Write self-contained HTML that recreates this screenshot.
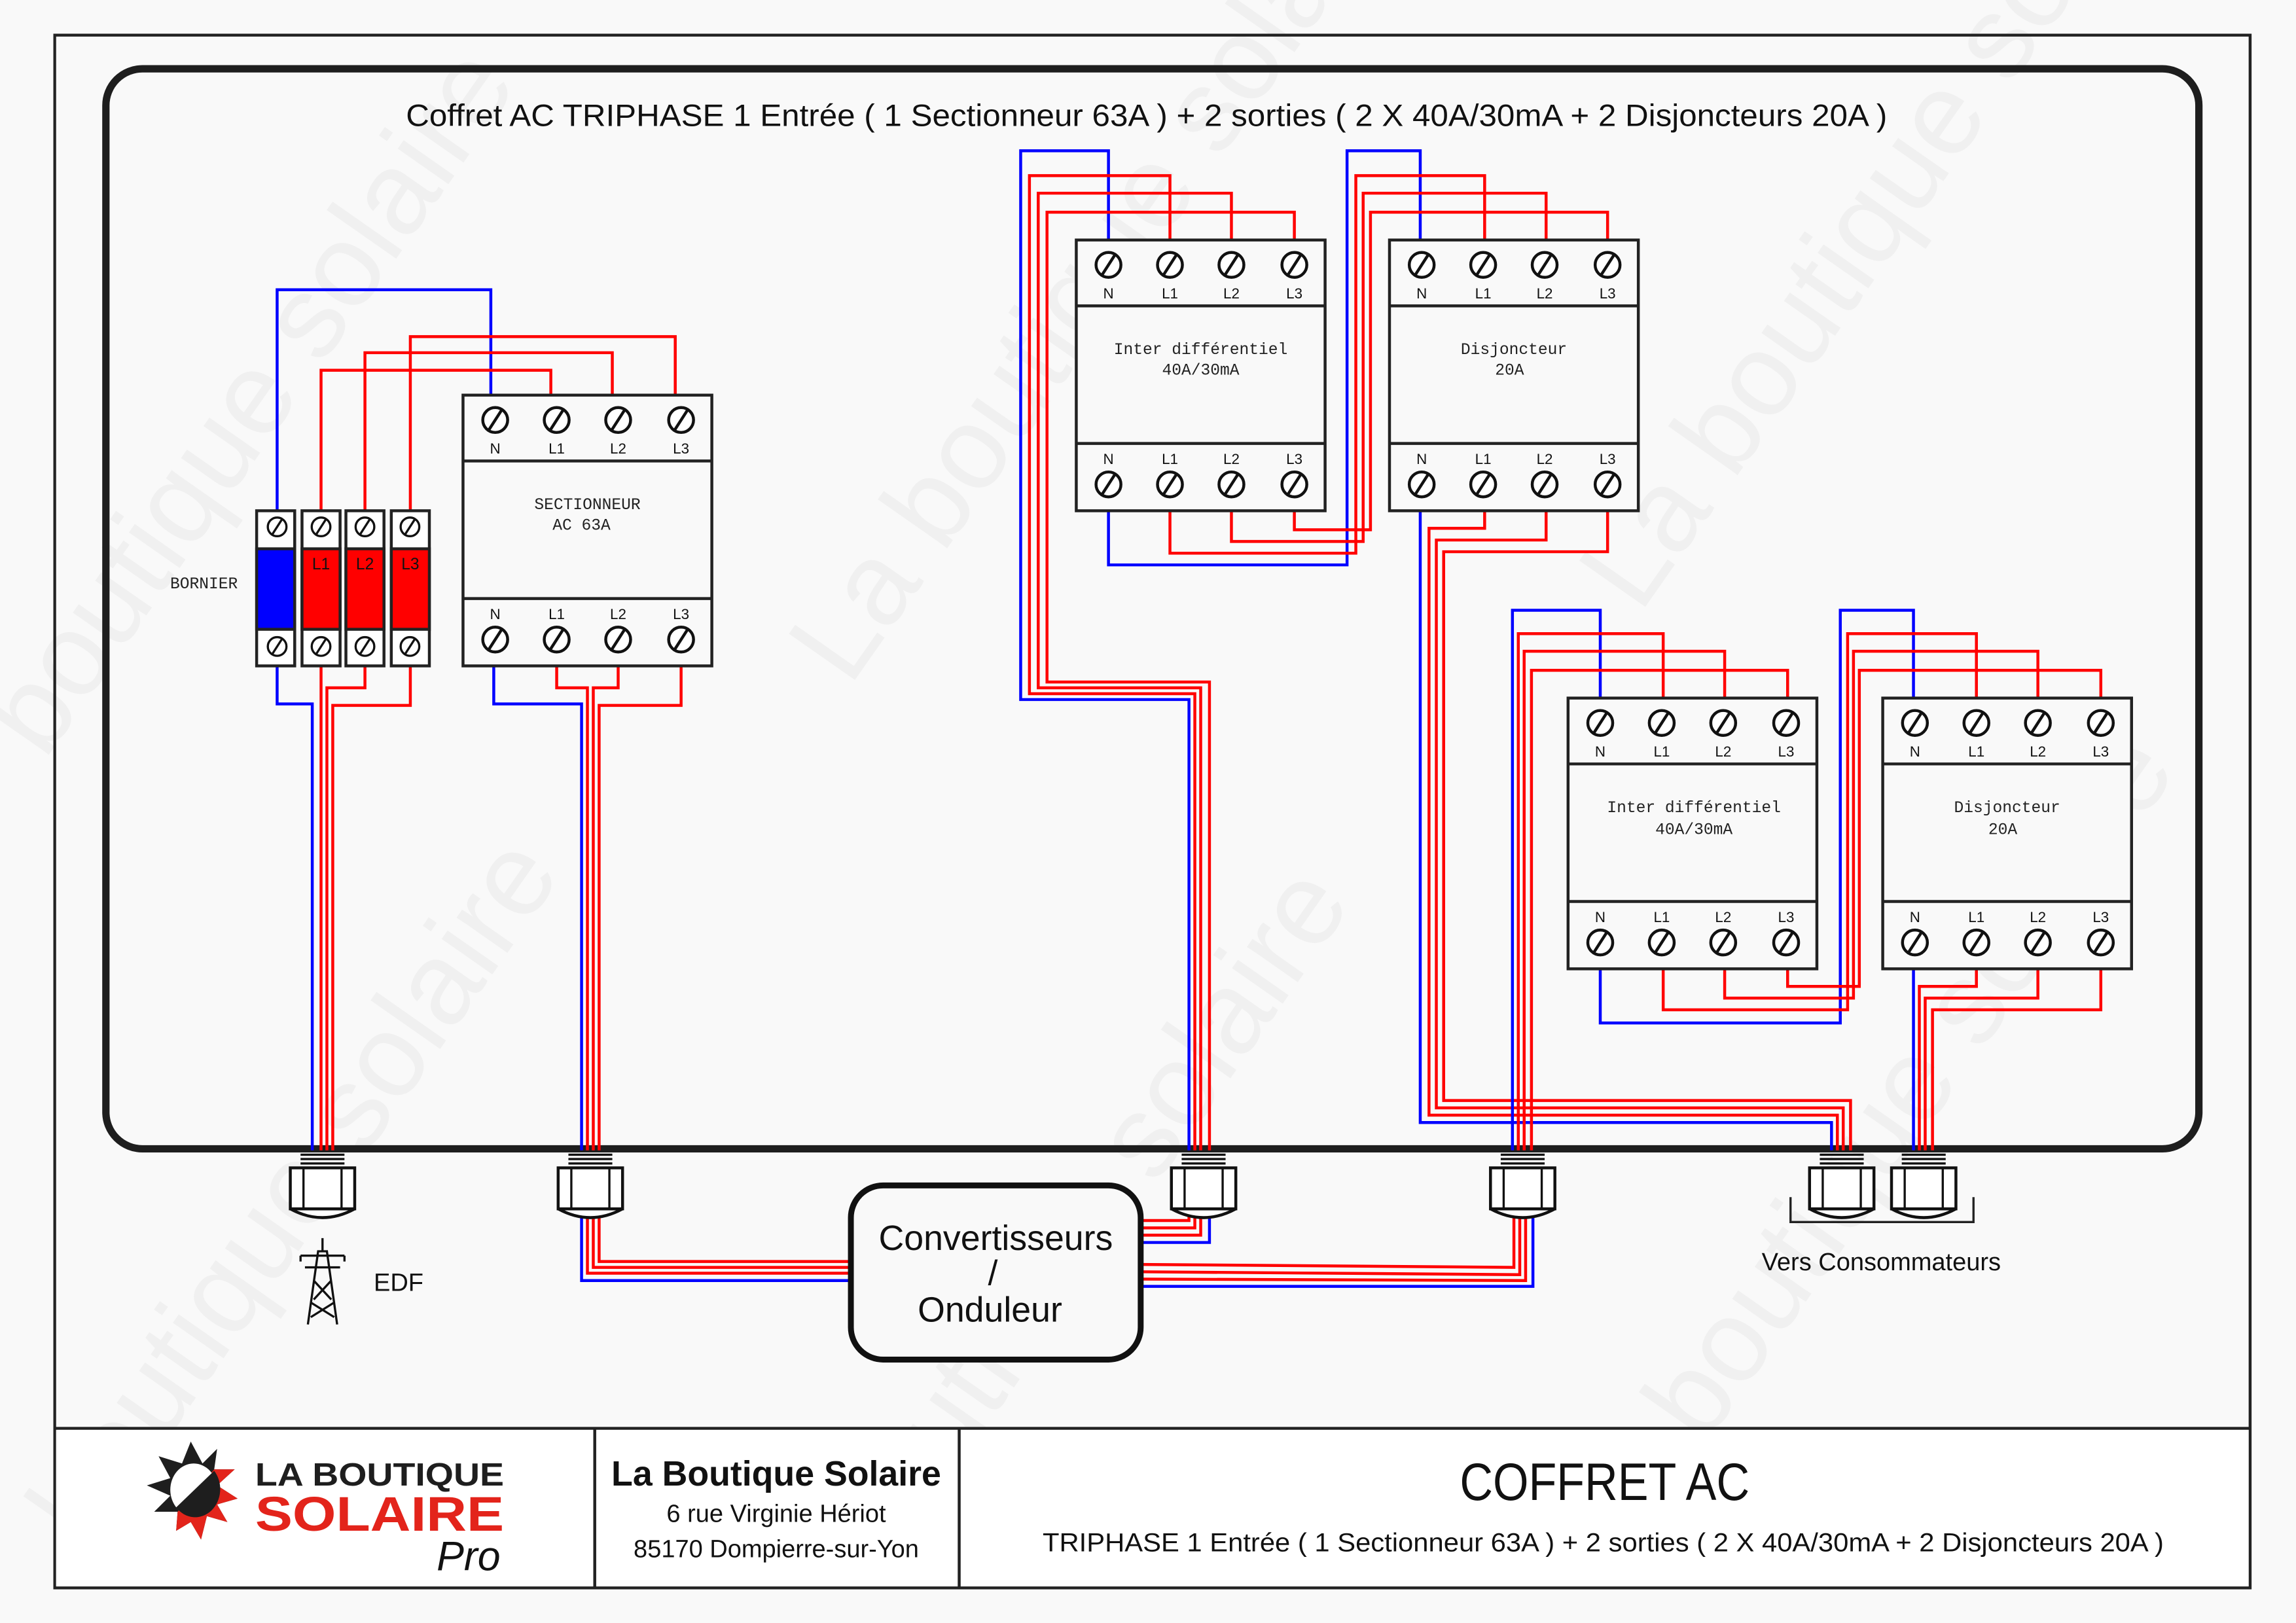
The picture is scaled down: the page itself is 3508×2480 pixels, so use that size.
<!DOCTYPE html>
<html><head><meta charset="utf-8"><style>
html,body{margin:0;padding:0;background:#f9f9f9;}
svg{display:block}
.sans{font-family:"Liberation Sans","DejaVu Sans",sans-serif;}
.mono{font-family:"Liberation Mono","DejaVu Sans Mono",monospace;}
</style></head><body>
<svg width="3508" height="2480" viewBox="0 0 1568 1109" xmlns="http://www.w3.org/2000/svg">
<defs>
<g id="screw"><circle r="8.5" fill="#fff" stroke="#111" stroke-width="2"/><line x1="-4.5" y1="7" x2="4.5" y2="-7" stroke="#111" stroke-width="2"/></g>
<g id="mod">
<rect x="0" y="0" width="170" height="185" fill="#f9f9f9" stroke="#222" stroke-width="2"/>
<line x1="0" y1="45" x2="170" y2="45" stroke="#222" stroke-width="2"/>
<line x1="0" y1="139" x2="170" y2="139" stroke="#222" stroke-width="2"/>
<use href="#screw" x="22" y="17"/><use href="#screw" x="64" y="17"/><use href="#screw" x="106" y="17"/><use href="#screw" x="149" y="17"/>
<use href="#screw" x="22" y="167"/><use href="#screw" x="64" y="167"/><use href="#screw" x="106" y="167"/><use href="#screw" x="149" y="167"/>
</g>
<g id="gland">
<g stroke="#111" stroke-width="1.5"><line x1="-15" y1="789" x2="15" y2="789"/><line x1="-15" y1="792" x2="15" y2="792"/><line x1="-15" y1="795" x2="15" y2="795"/></g>
<path d="M-22 826 Q0 838 22 826 Z" fill="#fff" stroke="#111" stroke-width="2"/>
<rect x="-22" y="798" width="44" height="28" fill="#fff" stroke="#111" stroke-width="2"/>
<line x1="-13" y1="798" x2="-13" y2="826" stroke="#111" stroke-width="1.5"/>
<line x1="13" y1="798" x2="13" y2="826" stroke="#111" stroke-width="1.5"/>
</g>
</defs>
<rect width="1568" height="1109" fill="#f9f9f9"/>
<g fill="#ececec" class="sans" font-size="80" opacity="0.7">
<text transform="translate(30,520) rotate(-55)">boutique solaire</text>
<text transform="translate(580,470) rotate(-55)">La boutique solaire</text>
<text transform="translate(1120,420) rotate(-55)">La boutique solaire</text>
<text transform="translate(60,1060) rotate(-55)">boutique solaire</text>
<text transform="translate(600,1080) rotate(-55)">boutique solaire</text>
<text transform="translate(1100,1080) rotate(-55)">La boutique solaire</text>
</g>
<rect x="37" y="24" width="1500" height="1061" fill="none" stroke="#222" stroke-width="2"/>
<rect x="72" y="47" width="1430" height="738" rx="25" fill="none" stroke="#1e1e1e" stroke-width="5"/>
<line x1="37" y1="976" x2="1537" y2="976" stroke="#222" stroke-width="2"/>
<rect x="38" y="977" width="1498" height="107" fill="#fff"/>
<line x1="406" y1="976" x2="406" y2="1085" stroke="#222" stroke-width="2"/>
<line x1="655" y1="976" x2="655" y2="1085" stroke="#222" stroke-width="2"/>
<text x="277" y="86" class="sans" font-size="21" fill="#111" textLength="1012" lengthAdjust="spacingAndGlyphs">Coffret AC TRIPHASE 1 Entrée ( 1 Sectionneur 63A ) + 2 sorties ( 2 X 40A/30mA  + 2  Disjoncteurs 20A )</text>

<g fill="none" stroke-width="2">
<polyline stroke="#00f" points="189,349 189,198 335,198 335,270"/>
<polyline stroke="#f00" points="219,349 219,253 376,253 376,270"/>
<polyline stroke="#f00" points="249,349 249,241 418,241 418,270"/>
<polyline stroke="#f00" points="280,349 280,230 461,230 461,270"/>
<polyline stroke="#00f" points="189,455 189,481 213,481 213,786"/>
<polyline stroke="#f00" points="219,455 219,786"/>
<polyline stroke="#f00" points="249,455 249,470 223,470 223,786"/>
<polyline stroke="#f00" points="280,455 280,482 227,482 227,786"/>
<polyline stroke="#00f" points="337,455 337,481 397,481 397,786"/>
<polyline stroke="#00f" points="397,826 397,875 581,875"/>
<polyline stroke="#f00" points="380,455 380,470 401,470 401,786"/>
<polyline stroke="#f00" points="401,826 401,870 581,870"/>
<polyline stroke="#f00" points="422,455 422,470 405,470 405,786"/>
<polyline stroke="#f00" points="405,826 405,866 581,866"/>
<polyline stroke="#f00" points="465,455 465,482 409,482 409,786"/>
<polyline stroke="#f00" points="409,826 409,862 581,862"/>
<polyline stroke="#f00" points="779,834 812,834 812,826"/>
<polyline stroke="#f00" points="779,839 816,839 816,826"/>
<polyline stroke="#f00" points="779,844 820,844 820,826"/>
<polyline stroke="#00f" points="779,849 826,849 826,826"/>
<polyline stroke="#f00" points="779,864 1034,866 1034,826"/>
<polyline stroke="#f00" points="779,869 1038,871 1038,826"/>
<polyline stroke="#f00" points="779,874 1042,875 1042,826"/>
<polyline stroke="#00f" points="779,879 1047,879 1047,826"/>
<polyline stroke="#00f" points="812,786 812,478 697,478 697,103 757,103 757,164"/>
<polyline stroke="#f00" points="816,786 816,474 703,474 703,120 799,120 799,164"/>
<polyline stroke="#f00" points="820,786 820,470 709,470 709,132 841,132 841,164"/>
<polyline stroke="#f00" points="826,786 826,466 715,466 715,145 884,145 884,164"/>
<polyline stroke="#00f" points="757,349 757,386 920,386 920,103 970,103 970,164"/>
<polyline stroke="#f00" points="799,349 799,378 926,378 926,120 1014,120 1014,164"/>
<polyline stroke="#f00" points="841,349 841,370 931,370 931,132 1056,132 1056,164"/>
<polyline stroke="#f00" points="884,349 884,362 936,362 936,145 1098,145 1098,164"/>
<polyline stroke="#00f" points="970,349 970,767 1251,767 1251,786"/>
<polyline stroke="#f00" points="1014,349 1014,361 976,361 976,762 1255,762 1255,786"/>
<polyline stroke="#f00" points="1056,349 1056,369 981,369 981,757 1259,757 1259,786"/>
<polyline stroke="#f00" points="1098,349 1098,377 986,377 986,752 1264,752 1264,786"/>
<polyline stroke="#00f" points="1033,786 1033,417 1093,417 1093,477"/>
<polyline stroke="#f00" points="1037,786 1037,433 1136,433 1136,477"/>
<polyline stroke="#f00" points="1041,786 1041,445 1178,445 1178,477"/>
<polyline stroke="#f00" points="1046,786 1046,458 1221,458 1221,477"/>
<polyline stroke="#00f" points="1093,662 1093,699 1257,699 1257,417 1307,417 1307,477"/>
<polyline stroke="#f00" points="1136,662 1136,690 1262,690 1262,433 1350,433 1350,477"/>
<polyline stroke="#f00" points="1178,662 1178,682 1266,682 1266,445 1392,445 1392,477"/>
<polyline stroke="#f00" points="1221,662 1221,674 1270,674 1270,458 1435,458 1435,477"/>
<polyline stroke="#00f" points="1307,662 1307,786"/>
<polyline stroke="#f00" points="1350,662 1350,674 1311,674 1311,786"/>
<polyline stroke="#f00" points="1392,662 1392,682 1315,682 1315,786"/>
<polyline stroke="#f00" points="1435,662 1435,690 1320,690 1320,786"/>
</g>

<g stroke="#222" stroke-width="2">
<rect x="175" y="349" width="26" height="106" fill="#fff"/><rect x="175" y="375" width="26" height="55" fill="#00f"/>
<rect x="206" y="349" width="26" height="106" fill="#fff"/><rect x="206" y="375" width="26" height="55" fill="#f00"/>
<rect x="236" y="349" width="26" height="106" fill="#fff"/><rect x="236" y="375" width="26" height="55" fill="#f00"/>
<rect x="267" y="349" width="26" height="106" fill="#fff"/><rect x="267" y="375" width="26" height="55" fill="#f00"/>
</g>
<g transform="scale(0.75)">
<use href="#screw" x="252" y="480"/><use href="#screw" x="292" y="480"/><use href="#screw" x="332" y="480"/><use href="#screw" x="373" y="480"/>
<use href="#screw" x="252" y="589"/><use href="#screw" x="292" y="589"/><use href="#screw" x="332" y="589"/><use href="#screw" x="373" y="589"/>
</g>
<g class="sans" font-size="11" fill="#111" text-anchor="middle"><text x="219" y="389">L1</text><text x="249" y="389">L2</text><text x="280" y="389">L3</text></g>
<text x="139" y="402" text-anchor="middle" class="mono" font-size="11" fill="#222">BORNIER</text>

<use href="#mod" x="316" y="270"/>
<use href="#mod" x="735" y="164"/>
<use href="#mod" x="949" y="164"/>
<use href="#mod" x="1071" y="477"/>
<use href="#mod" x="1286" y="477"/>
<g class="sans" font-size="10" fill="#111" text-anchor="middle">
<g transform="translate(316,270)"><text x="22" y="40">N</text><text x="64" y="40">L1</text><text x="106" y="40">L2</text><text x="149" y="40">L3</text><text x="22" y="153">N</text><text x="64" y="153">L1</text><text x="106" y="153">L2</text><text x="149" y="153">L3</text></g>
<g transform="translate(735,164)"><text x="22" y="40">N</text><text x="64" y="40">L1</text><text x="106" y="40">L2</text><text x="149" y="40">L3</text><text x="22" y="153">N</text><text x="64" y="153">L1</text><text x="106" y="153">L2</text><text x="149" y="153">L3</text></g>
<g transform="translate(949,164)"><text x="22" y="40">N</text><text x="64" y="40">L1</text><text x="106" y="40">L2</text><text x="149" y="40">L3</text><text x="22" y="153">N</text><text x="64" y="153">L1</text><text x="106" y="153">L2</text><text x="149" y="153">L3</text></g>
<g transform="translate(1071,477)"><text x="22" y="40">N</text><text x="64" y="40">L1</text><text x="106" y="40">L2</text><text x="149" y="40">L3</text><text x="22" y="153">N</text><text x="64" y="153">L1</text><text x="106" y="153">L2</text><text x="149" y="153">L3</text></g>
<g transform="translate(1286,477)"><text x="22" y="40">N</text><text x="64" y="40">L1</text><text x="106" y="40">L2</text><text x="149" y="40">L3</text><text x="22" y="153">N</text><text x="64" y="153">L1</text><text x="106" y="153">L2</text><text x="149" y="153">L3</text></g>
</g>
<g class="mono" font-size="11" fill="#222" text-anchor="middle">
<text x="401" y="348">SECTIONNEUR</text><text x="397" y="362">AC 63A</text>
<text x="820" y="242">Inter différentiel</text><text x="820" y="256">40A/30mA</text>
<text x="1034" y="242">Disjoncteur</text><text x="1031" y="256">20A</text>
<text x="1157" y="555">Inter différentiel</text><text x="1157" y="570">40A/30mA</text>
<text x="1371" y="555">Disjoncteur</text><text x="1368" y="570">20A</text>
</g>

<use href="#gland" x="220"/><use href="#gland" x="403"/><use href="#gland" x="822"/><use href="#gland" x="1040"/><use href="#gland" x="1258"/><use href="#gland" x="1314"/>
<polyline points="1223,818 1223,835 1348,835 1348,818" fill="none" stroke="#222" stroke-width="1.5"/>
<text x="1285" y="868" text-anchor="middle" class="sans" font-size="17" fill="#111">Vers Consommateurs</text>

<g stroke="#111" stroke-width="1.5" fill="none">
<polyline points="210,905 217,855 223,855 230,905"/>
<line x1="205" y1="858" x2="235" y2="858"/><line x1="208" y1="866" x2="232" y2="866"/>
<line x1="220" y1="846" x2="220" y2="855"/>
<line x1="212" y1="890" x2="228" y2="900"/><line x1="228" y1="890" x2="212" y2="900"/>
<line x1="214" y1="875" x2="226" y2="888"/><line x1="226" y1="875" x2="214" y2="888"/>
<line x1="205" y1="858" x2="205" y2="862"/><line x1="235" y1="858" x2="235" y2="862"/>
</g>
<text x="255" y="882" class="sans" font-size="17" fill="#111">EDF</text>

<rect x="581" y="810" width="198" height="119" rx="22" fill="#f9f9f9" stroke="#111" stroke-width="4"/>
<g class="sans" font-size="24" fill="#111" text-anchor="middle">
<text x="680" y="854">Convertisseurs</text><text x="678" y="878">/</text><text x="676" y="903">Onduleur</text>
</g>

<g>
<polygon points="130,985 138,1000 148,990 146,1004 160,1004 148,1015 162,1024 148,1028 155,1040 141,1036 137,1052 130,1040 120,1046 121,1033 105,1033 116,1022 100,1015 116,1010 108,995 124,1000" fill="#1e1e1e"/>
<polygon points="146,1004 160,1004 148,1015 162,1024 148,1028 155,1040 141,1036 137,1052 130,1040 120,1046 121,1033" fill="#e3241b"/>
<ellipse cx="132" cy="1018" rx="16" ry="18" fill="#fff"/>
<path d="M120 1030 L146 1005 A16 18 0 0 1 120 1030 Z" fill="#1e1e1e"/>
</g>
<text x="174" y="1015" class="sans" font-size="22" font-weight="bold" fill="#1e1e1e" textLength="170" lengthAdjust="spacingAndGlyphs">LA BOUTIQUE</text>
<text x="174" y="1046" class="sans" font-size="33" font-weight="bold" fill="#e3241b" textLength="170" lengthAdjust="spacingAndGlyphs">SOLAIRE</text>
<text x="298" y="1073" class="sans" font-size="28" font-style="italic" fill="#111">Pro</text>

<g class="sans" fill="#111">
<text x="530" y="1015" font-size="24" font-weight="bold" text-anchor="middle">La Boutique Solaire</text>
<text x="530" y="1040" font-size="17" text-anchor="middle">6 rue Virginie Hériot</text>
<text x="530" y="1064" font-size="17" text-anchor="middle">85170 Dompierre-sur-Yon</text>
<text x="997" y="1025" font-size="36" textLength="198" lengthAdjust="spacingAndGlyphs">COFFRET AC</text>
<text x="712" y="1060" font-size="18" textLength="766" lengthAdjust="spacingAndGlyphs">TRIPHASE 1 Entrée ( 1 Sectionneur 63A ) + 2 sorties ( 2 X 40A/30mA  + 2  Disjoncteurs 20A )</text>
</g>
</svg>
</body></html>
